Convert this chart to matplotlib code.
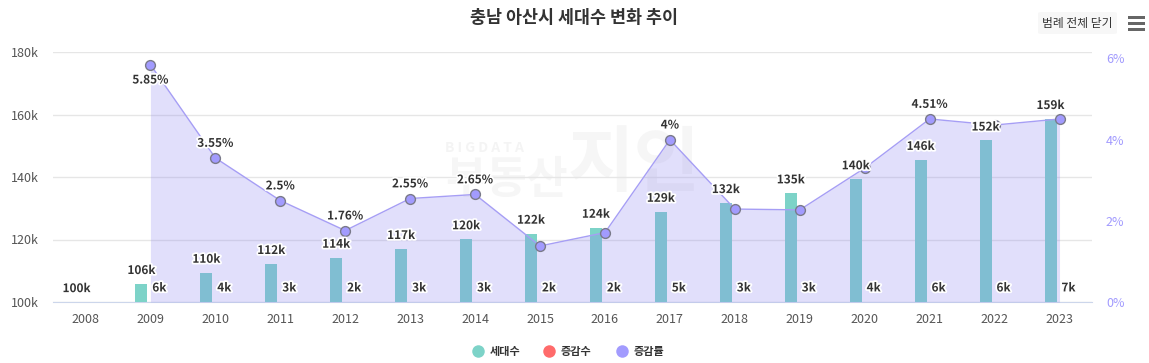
import matplotlib
matplotlib.use("Agg")
import matplotlib.pyplot as plt
import matplotlib.patheffects as pe
from matplotlib.patches import FancyBboxPatch, Rectangle
from matplotlib.lines import Line2D
import numpy as np

plt.rcParams['font.family'] = ['Noto Sans CJK KR', 'DejaVu Sans']

years = ['2008', '2009', '2010', '2011', '2012', '2013', '2014', '2015',
         '2016', '2017', '2018', '2019', '2020', '2021', '2022', '2023']
households = [100000, 105800, 109400, 112200, 114200, 117000, 120100, 121900,
              123800, 128900, 131700, 134800, 139300, 145500, 151700, 158600]
household_labels = ['100k', '106k', '110k', '112k', '114k', '117k', '120k', '122k',
                    '124k', '129k', '132k', '135k', '140k', '146k', '152k', '159k']
change = [None, 6000, 4000, 3000, 2000, 3000, 3000, 2000,
          2000, 5000, 3000, 3000, 4000, 6000, 6000, 7000]
change_labels = [None, '6k', '4k', '3k', '2k', '3k', '3k', '2k',
                 '2k', '5k', '3k', '3k', '4k', '6k', '6k', '7k']
rate = [None, 5.85, 3.55, 2.5, 1.76, 2.55, 2.65, 1.38,
        1.71, 4.0, 2.29, 2.27, 3.30, 4.51, 4.36, 4.51]
rate_labels = [None, '5.85%', '3.55%', '2.5%', '1.76%', '2.55%', '2.65%', None,
               None, '4%', None, None, None, '4.51%', None, None]

left_ticks = [100000, 120000, 140000, 160000, 180000]
left_tick_labels = ['100k', '120k', '140k', '160k', '180k']
right_ticks = [0, 2, 4, 6]
right_tick_labels = ['0%', '2%', '4%', '6%']

TEAL = '#7dd3c8'
RED = '#ff6b6b'
PURPLE = '#a29bfe'
LINE = '#a69ef5'

W, H = 1149, 363
fig = plt.figure(figsize=(W / 100, H / 100), dpi=100)
fig.patch.set_facecolor('white')

L, R, T, B = 53, 1092, 52, 302
ax = fig.add_axes([L / W, (H - B) / H, (R - L) / W, (B - T) / H])
ax2 = ax.twinx()

x = np.arange(len(years))
bw = 0.185
off = 0.138

# faint watermark (logo in the reference)
fig.text(445 / W, 1 - 148 / H, 'B I G D A T A', fontsize=10, color='#f4f4f4',
         ha='left', va='center', fontweight='bold', zorder=0)
fig.text(445 / W, 1 - 180 / H, '부동산', fontsize=32, color='#f6f6f6',
         ha='left', va='center', fontweight='bold', zorder=0)
fig.text(568 / W, 1 - 165 / H, '지인', fontsize=52, color='#f6f6f6',
         ha='left', va='center', fontweight='bold', zorder=0)

ax.set_zorder(1)
ax.patch.set_visible(False)
ax2.set_zorder(2)
ax2.patch.set_visible(False)

heights = [h - 100000 for h in households]
ax.bar(x - off, heights, width=bw, bottom=100000, color=TEAL, zorder=3)
chg_x = [xi + off for xi, c in zip(x, change) if c is not None]
chg_v = [c for c in change if c is not None]
ax.bar(chg_x, chg_v, width=bw, bottom=0, color=RED, zorder=3)

ax.set_xlim(-0.5, len(years) - 0.5)
ax.set_ylim(100000, 180000)
ax.set_yticks(left_ticks)
ax.set_yticklabels(left_tick_labels)
ax.set_xticks(x)
ax.set_xticklabels(years)
ax.grid(axis='y', color='#e6e6e6', linewidth=1, zorder=0)
ax.set_axisbelow(True)
for s in ['top', 'right', 'left']:
    ax.spines[s].set_visible(False)
ax.spines['bottom'].set_color('#ccd6eb')
ax.tick_params(axis='x', length=0, pad=8, labelsize=9, labelcolor='#555555')
ax.tick_params(axis='y', length=0, pad=10, labelsize=9, labelcolor='#555555')

# rate series
rx = [xi for xi, r in zip(x, rate) if r is not None]
rv = [r for r in rate if r is not None]
ax2.fill_between(rx, 0, rv, color='#8a80f0', alpha=0.25, linewidth=0, zorder=1)
ax2.plot(rx, rv, color=LINE, linewidth=1, zorder=3)
ax2.scatter(rx, rv, s=50, color=PURPLE, edgecolor='#7a7a8a', linewidth=1, zorder=4)
ax2.set_ylim(0, 6.16)
ax2.set_yticks(right_ticks)
ax2.set_yticklabels(right_tick_labels)
ax2.tick_params(axis='y', length=0, pad=10, labelsize=9, labelcolor='#a29bfe')
for s in ['top', 'right', 'left', 'bottom']:
    ax2.spines[s].set_visible(False)

halo = [pe.withStroke(linewidth=2.5, foreground='white')]
for xi, h, lab in zip(x, households, household_labels):
    ax2.text(xi - off, h + 2200, lab, transform=ax.transData, ha='center', va='bottom',
             fontsize=8.5, fontweight='bold', color='#333333', path_effects=halo, zorder=6)
for xi, lab in zip(x, change_labels):
    if lab is None:
        continue
    ax2.text(xi + off, 104500, lab, transform=ax.transData, ha='center', va='center',
             fontsize=8.5, fontweight='bold', color='#333333', path_effects=halo, zorder=6)
for xi, r, lab in zip(x, rate, rate_labels):
    if lab is None:
        continue
    if xi == 1:
        ax2.text(xi, r - 0.22, lab, ha='center', va='top', fontsize=8.5,
                 fontweight='bold', color='#333333', path_effects=halo, zorder=6)
    else:
        ax2.text(xi, r + 0.2, lab, ha='center', va='bottom', fontsize=8.5,
                 fontweight='bold', color='#333333', path_effects=halo, zorder=6)

# title
fig.text(0.5, 1 - 18 / H, '충남 아산시 세대수 변화 추이', ha='center', va='center',
         fontsize=12.5, fontweight='bold', color='#333333')

# button
btn = FancyBboxPatch((1038 / W, 1 - 34 / H), 79 / W, 22 / H,
                     boxstyle='round,pad=0,rounding_size=0.004',
                     transform=fig.transFigure, facecolor='#f7f7f7', edgecolor='none')
fig.patches.append(btn)
fig.text(1077 / W, 1 - 23 / H, '범례 전체 닫기', ha='center', va='center',
         fontsize=8.5, color='#333333')
for yy in [17, 23, 29]:
    fig.patches.append(Rectangle((1128 / W, 1 - (yy + 1.5) / H), 17 / W, 3 / H,
                                 transform=fig.transFigure, facecolor='#666666',
                                 edgecolor='none'))

# legend
leg_items = [('세대수', TEAL, 478), ('증감수', RED, 549), ('증감률', PURPLE, 622)]
for name, col, px in leg_items:
    fig.add_artist(Line2D([px / W], [1 - 351 / H], marker='o', markersize=9,
                          color=col, markeredgewidth=0, linestyle='none',
                          transform=fig.transFigure))
    fig.text((px + 12) / W, 1 - 351 / H, name, ha='left', va='center', fontsize=8,
             fontweight='bold', color='#333333')

fig.savefig('out.png', dpi=100)
